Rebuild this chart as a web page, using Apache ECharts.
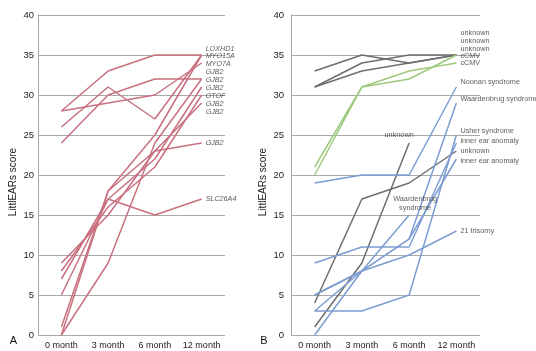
<!DOCTYPE html>
<html><head><meta charset="utf-8">
<script src="https://cdn.jsdelivr.net/npm/echarts@6/dist/echarts.min.js"></script>
<style>html,body{margin:0;padding:0;background:#fff}#c{width:536px;height:351px}</style>
</head><body><div id="c"></div>
<script>
const categories = ['0 month', '3 month', '6 month', '12 month'];
const yTicks = [0, 40, 5]; // min, max, interval

// Panel A (genetic causes)
const a01 = [28, 33, 35, 35];
const a02 = [28, 29, 30, 34];
const a03 = [26, 31, 27, 35];
const a04 = [24, 30, 32, 32];
const a05 = [1, 18, 25, 35];
const a06 = [0, 9, 24, 32];
const a07 = [0, 18, 23, 24];
const a08 = [5, 17, 15, 17];
const a09 = [7, 17, 22, 31];
const a10 = [8, 16, 21, 30];
const a11 = [9, 15, 23, 29];
const seriesA = [a01, a02, a03, a04, a05, a06, a07, a08, a09, a10, a11];
const labelsA = ['LOXHD1', 'MYO15A', 'MYO7A', 'GJB2', 'GJB2', 'GJB2', 'OTOF', 'GJB2', 'GJB2', 'GJB2', 'SLC26A4'];
const labelValA = [35.8, 34.9, 33.9, 32.9, 31.9, 30.9, 29.9, 28.9, 27.9, 24, 17];

// Panel B (other causes)
const bGray1 = [33, 35, 34, 35];
const bGray2 = [31, 34, 35, 35];
const bGray3 = [31, 33, 34, 35];
const bGray4 = [1, 9, 24, '-'];
const bGray5 = [4, 17, 19, 23];
const bGreen1 = [21, 31, 33, 34];
const bGreen2 = [20, 31, 32, 35];
const bBlue1 = [19, 20, 20, 31];
const bBlue2 = [3, 8, 12, 29];
const bBlue3 = [3, 3, 5, 25];
const bBlue4 = [9, 11, 11, 24];
const bBlue5 = [5, 8, 12, 22];
const bBlue6 = [5, 8, 10, 13];
const bBlue7 = [0, 8, 15, '-'];
const grayB = [bGray1, bGray2, bGray3, bGray4, bGray5];
const greenB = [bGreen1, bGreen2];
const blueB = [bBlue1, bBlue2, bBlue3, bBlue4, bBlue5, bBlue6, bBlue7];
const labelsB = ['unknown', 'unknown', 'unknown', 'cCMV', 'cCMV', 'Noonan syndrome', 'Waardenbrug syndrome', 'Usher syndrome', 'inner ear anomaly', 'unknown', 'inner ear anomaly', '21 trisomy'];
const labelValB = [37.8, 36.8, 35.8, 34.9, 34.0, 31.6, 29.5, 25.5, 24.3, 23.0, 21.8, 13.0];
const midLabelsB = ['unknown', 'Waardenbrug\nsyndrome'];
const midLabelValB = [25, 16.4];

const FONT = "'Liberation Sans', Arial, sans-serif";
const RED = '#c9707f', BLUE = '#7d9dd3', GREEN = '#9cc97c', GRAY = '#6e6e6e', GRID = '#a9a9a9';

const chart = echarts.init(document.getElementById('c'), null, {renderer: 'canvas'});

function mkX(gi) {
  return {
    type: 'category', gridIndex: gi, data: categories, boundaryGap: true,
    axisLine: {show: false}, axisTick: {show: false},
    axisLabel: {color: '#222', fontSize: 9, fontFamily: FONT, margin: 6, interval: 0}
  };
}
function mkY(gi) {
  return {
    type: 'value', gridIndex: gi, min: yTicks[0], max: yTicks[1], interval: yTicks[2],
    axisLine: {show: true, lineStyle: {color: GRID, width: 1}},
    axisTick: {show: false},
    axisLabel: {color: '#222', fontSize: 9.5, fontFamily: FONT, margin: gi === 0 ? 4 : 7},
    splitLine: {show: true, lineStyle: {color: GRID, width: 1}}
  };
}
function lineS(data, color, gi) {
  return {
    type: 'line', xAxisIndex: gi, yAxisIndex: gi, data: data, symbol: 'none',
    lineStyle: {color: color, width: 1.5}, silent: true, animation: false, z: 3
  };
}
const series = [];
seriesA.forEach(d => series.push(lineS(d, RED, 0)));
grayB.forEach(d => series.push(lineS(d, GRAY, 1)));
greenB.forEach(d => series.push(lineS(d, GREEN, 1)));
blueB.forEach(d => series.push(lineS(d, BLUE, 1)));

// end labels panel A
series.push({
  type: 'scatter', xAxisIndex: 0, yAxisIndex: 0, symbolSize: 0, silent: true, animation: false, z: 5,
  data: labelsA.map((t, i) => ({value: [3, labelValA[i]], name: t})),
  label: {show: true, position: 'right', distance: 4, formatter: p => p.name,
    fontSize: 7.2, fontStyle: 'italic', color: '#333', fontFamily: FONT}
});
// end labels panel B
series.push({
  type: 'scatter', xAxisIndex: 1, yAxisIndex: 1, symbolSize: 0, silent: true, animation: false, z: 5,
  data: labelsB.map((t, i) => ({value: [3, labelValB[i]], name: t})),
  label: {show: true, position: 'right', distance: 4, formatter: p => p.name,
    fontSize: 7.3, color: '#333', fontFamily: FONT}
});
// mid labels panel B
series.push({
  type: 'scatter', xAxisIndex: 1, yAxisIndex: 1, symbolSize: 0, silent: true, animation: false, z: 5,
  data: midLabelsB.map((t, i) => ({value: [2, midLabelValB[i]], name: t,
    label: {offset: i === 0 ? [-10, 0] : [6, 0]}})),
  label: {show: true, position: 'inside', formatter: p => p.name, align: 'center', verticalAlign: 'middle',
    fontSize: 7.3, lineHeight: 9, color: '#333', fontFamily: FONT}
});

chart.setOption({
  animation: false,
  backgroundColor: '#fff',
  grid: [
    {left: 38, top: 15, width: 187, height: 320},
    {left: 291, top: 15, width: 189, height: 320}
  ],
  xAxis: [mkX(0), mkX(1)],
  yAxis: [mkY(0), mkY(1)],
  series: series,
  graphic: [
    {type: 'text', x: 13, y: 182, rotation: Math.PI / 2,
      style: {text: 'LittlEARs score', fontSize: 10, fontFamily: FONT, fill: '#222', align: 'center', verticalAlign: 'middle'}},
    {type: 'text', x: 263, y: 182, rotation: Math.PI / 2,
      style: {text: 'LittlEARs score', fontSize: 10, fontFamily: FONT, fill: '#222', align: 'center', verticalAlign: 'middle'}},
    {type: 'text', x: 13.5, y: 341,
      style: {text: 'A', fontSize: 11, fontFamily: FONT, fill: '#111', align: 'center', verticalAlign: 'middle'}},
    {type: 'text', x: 264, y: 341,
      style: {text: 'B', fontSize: 11, fontFamily: FONT, fill: '#111', align: 'center', verticalAlign: 'middle'}}
  ]
});
</script></body></html>
